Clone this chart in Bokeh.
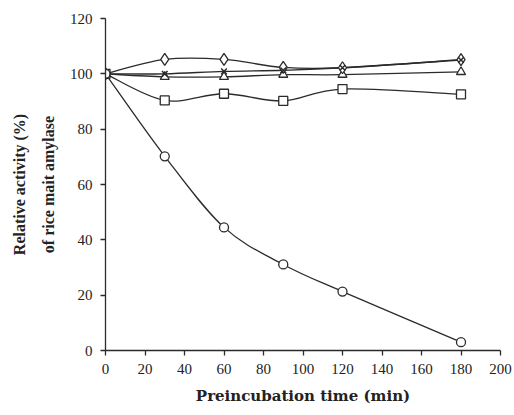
from bokeh.plotting import figure
from bokeh.models import Range1d, FixedTicker
from bokeh.embed import file_html
from bokeh.resources import INLINE

time_min = [0, 30, 60, 90, 120, 180]
series_circle = [100, 70.2, 44.5, 31.1, 21.3, 3.0]
series_diamond = [100, 105.2, 105.2, 102.3, 102.2, 105.1]
series_x = [100, 100.0, 100.9, 101.3, 102.2, 105.0]
series_triangle = [100, 98.9, 98.9, 99.7, 99.7, 100.7]
series_square = [100, 90.4, 92.8, 90.2, 94.5, 92.6]
x_ticks = [0, 20, 40, 60, 80, 100, 120, 140, 160, 180, 200]
y_ticks = [0, 20, 40, 60, 80, 100, 120]

LINE = "#2b2b2b"
SERIF = "Liberation Serif"

p = figure(width=514, height=415, output_backend="svg", toolbar_location=None,
           x_range=Range1d(0, 200), y_range=Range1d(0, 120),
           min_border_left=105, min_border_right=14, min_border_top=18, min_border_bottom=65)
p.outline_line_color = None
p.xgrid.visible = False
p.ygrid.visible = False
p.background_fill_color = "white"
p.border_fill_color = "white"


def smooth(xs, ys):
    n = len(xs)
    x0, y0, x1, y1, cx0, cy0, cx1, cy1 = [], [], [], [], [], [], [], []
    for i in range(n - 1):
        im = max(i - 1, 0)
        ip = min(i + 2, n - 1)
        x0.append(xs[i]); y0.append(ys[i])
        x1.append(xs[i + 1]); y1.append(ys[i + 1])
        cx0.append(xs[i] + (xs[i + 1] - xs[im]) / 6.0)
        cy0.append(ys[i] + (ys[i + 1] - ys[im]) / 6.0)
        cx1.append(xs[i + 1] - (xs[ip] - xs[i]) / 6.0)
        cy1.append(ys[i + 1] - (ys[ip] - ys[i]) / 6.0)
    p.bezier(x0=x0, y0=y0, x1=x1, y1=y1, cx0=cx0, cy0=cy0, cx1=cx1, cy1=cy1,
             line_color=LINE, line_width=1.3)


for s in [series_circle, series_diamond, series_x, series_triangle, series_square]:
    smooth(time_min, s)

p.scatter(time_min, series_square, marker="square", size=9, fill_color="white",
          line_color=LINE, line_width=1.3)
p.scatter(time_min, series_triangle, marker="triangle", size=9, fill_color="white",
          line_color=LINE, line_width=1.3)
p.scatter(time_min, series_diamond, marker="diamond", size=12, fill_color="white",
          line_color=LINE, line_width=1.3)
p.scatter(time_min, series_x, marker="x", size=8, line_color=LINE, line_width=1.5)
p.scatter(time_min, series_circle, marker="circle", size=9, fill_color="white",
          line_color=LINE, line_width=1.3)

p.xaxis.ticker = FixedTicker(ticks=x_ticks)
p.yaxis.ticker = FixedTicker(ticks=y_ticks)
for ax in (p.xaxis, p.yaxis):
    ax.minor_tick_line_color = None
    ax.major_tick_in = 0
    ax.major_tick_out = 5
    ax.axis_line_color = LINE
    ax.major_tick_line_color = LINE
    ax.axis_line_width = 1.3
    ax.major_tick_line_width = 1.3
    ax.major_label_text_font = SERIF
    ax.major_label_text_font_size = "15px"
    ax.major_label_text_color = "#222222"
    ax.axis_label_text_font = SERIF
    ax.axis_label_text_font_style = "bold"
    ax.axis_label_text_color = "#222222"

p.xaxis.axis_label = "Preincubation time (min)"
p.xaxis.axis_label_text_font = "DejaVu Serif"
p.xaxis.axis_label_text_font_size = "15px"
p.xaxis.major_label_standoff = 8
p.xaxis.axis_label_standoff = 10

p.yaxis.axis_label = "Relative activity (%)\nof rice mait amylase"
p.yaxis.axis_label_text_font_size = "16px"
p.yaxis.axis_label_text_line_height = 1.7
p.yaxis.major_label_standoff = 8
p.yaxis.axis_label_standoff = 10

open("out.html", "w").write(file_html(p, INLINE))
